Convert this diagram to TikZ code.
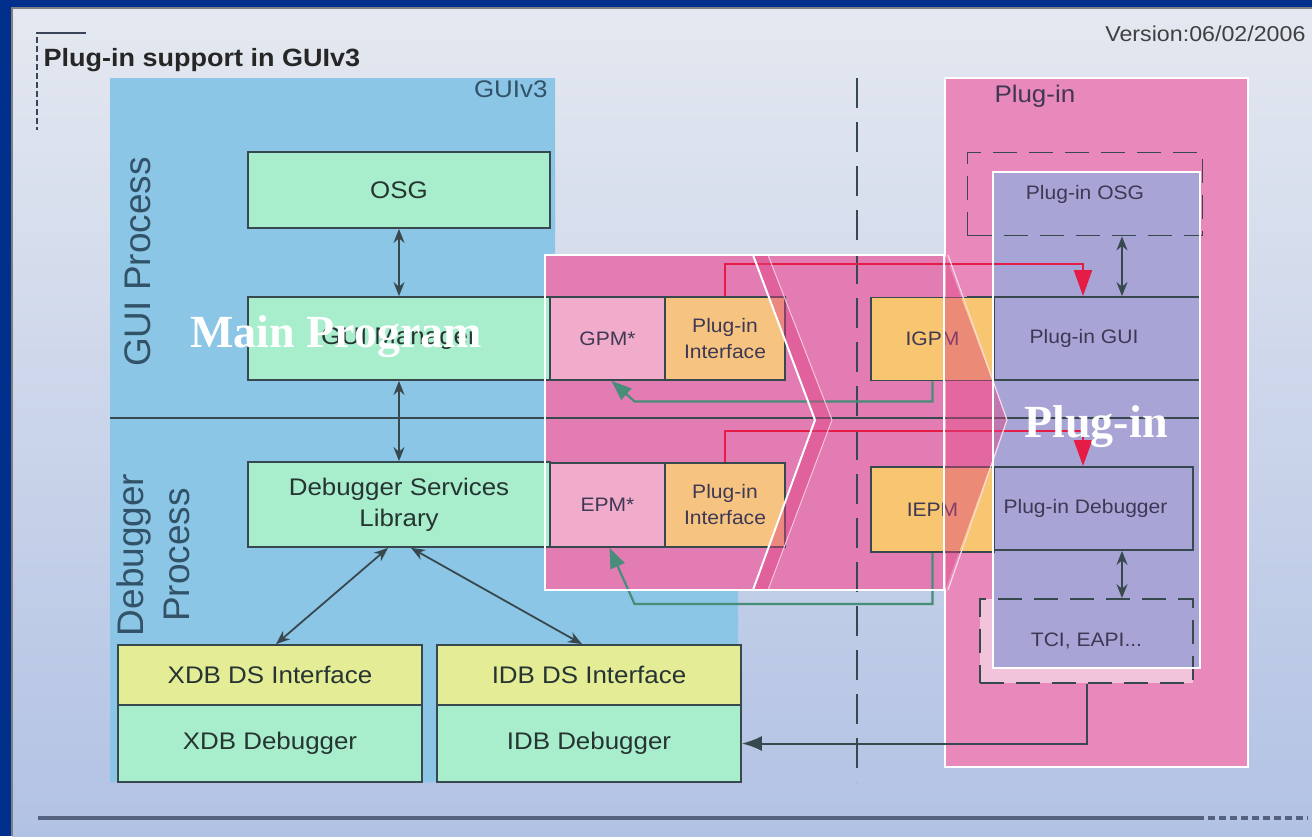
\documentclass[tikz,border=0pt]{standalone}
\usepackage{fontspec}
\setmainfont{Liberation Sans}[FakeStretch=1.08]
\newfontfamily\uprightsans{Liberation Sans}
\newfontfamily\overlayserif{Liberation Serif}
\usetikzlibrary{arrows.meta}

\definecolor{frameblue}{RGB}{0,48,140}
\definecolor{paneltop}{RGB}{228,232,240}
\definecolor{panelbot}{RGB}{178,194,228}
\definecolor{guiblue}{RGB}{140,198,230}
\definecolor{plugpink}{RGB}{233,136,186}
\definecolor{mainpink}{RGB}{226,124,178}
\definecolor{lavender}{RGB}{168,165,214}
\definecolor{mint}{RGB}{168,238,204}
\definecolor{ifyellow}{RGB}{228,236,150}
\definecolor{pmpink}{RGB}{240,172,202}
\definecolor{iforange}{RGB}{246,196,128}
\definecolor{ipmorange}{RGB}{248,198,112}
\definecolor{tcifill}{RGB}{242,196,220}
\definecolor{boxline}{RGB}{55,72,78}
\definecolor{boxtext}{RGB}{38,52,50}
\definecolor{guitext}{RGB}{50,82,104}
\definecolor{plugtext}{RGB}{62,56,84}
\definecolor{arrowred}{RGB}{228,28,70}
\definecolor{arrowteal}{RGB}{72,140,122}
\definecolor{chevron}{RGB}{222,66,130}
\definecolor{rulegray}{RGB}{84,98,128}

\tikzset{
  block/.style={draw=boxline, line width=1.8pt, inner sep=0pt, align=center, text=boxtext, font=\fontsize{24}{31}\selectfont},
  smallblock/.style={block, text=plugtext, font=\fontsize{19.5}{26}\selectfont},
  dashblock/.style={smallblock, dash pattern=on 24pt off 12pt},
  link/.style={>={Stealth[length=14pt,width=11pt]}, <->, line width=1.8pt, draw=boxline},
  calltrack/.style={>={Triangle[length=26pt,width=18pt]}, ->, line width=2.2pt, draw=arrowred},
  backtrack/.style={>={Triangle[length=20pt,width=15pt]}, ->, line width=2.2pt, draw=arrowteal},
  region/.style={draw=white, line width=1.6pt},
  bigwhite/.style={text=white, font=\overlayserif\bfseries\fontsize{46}{52}\selectfont, anchor=base},
}

\begin{document}
\begin{tikzpicture}[x=1pt, y=-1pt]
\useasboundingbox (0,0) rectangle (1312,836);
\fill[frameblue] (0,0) rectangle (1312,836);
\shade[top color=paneltop, bottom color=panelbot] (12,8) rectangle (1312,836);
\draw[gray, line width=1.5pt] (12,836) -- (12,8) -- (1312,8);

\draw[rulegray!70!black, line width=2.5pt] (36,33) -- (86,33);
\draw[rulegray!70!black, line width=2pt, dash pattern=on 6pt off 3pt] (37,37) -- (37,130);
\node[anchor=base west, font=\bfseries\fontsize{25}{30}\selectfont, text=black!85] (title) at (40,66) {Plug-in support in GUIv3};
\node[anchor=base east, font=\fontsize{21.5}{26}\selectfont, text=black!75] (version) at (1309,41) {Version:06/02/2006};

\fill[guiblue] (110,78) -- (555,78) -- (555,255) -- (738,255) -- (738,782) -- (110,782) -- cycle;
\fill[plugpink] (945,78) rectangle (1248,767);
\draw[region] (945,78) rectangle (1248,767);
\node[anchor=base east, font=\fontsize{24}{28}\selectfont, text=guitext] (guilabel) at (551,97) {GUIv3};
\node[anchor=base west, font=\fontsize{24}{28}\selectfont, text=plugtext] (pluglabel) at (991,102) {Plug-in};
\node[rotate=90, inner sep=0pt, font=\uprightsans\fontsize{37}{46}\selectfont, text=guitext] (guiproc) at (138,262) {GUI Process};
\node[rotate=90, inner sep=0pt, align=center, font=\uprightsans\fontsize{37}{46}\selectfont, text=guitext] (dbgproc) at (153,555) {Debugger\\Process};

\fill[mainpink] (545,255) rectangle (944,590);
\fill[tcifill] (980,599) rectangle (1193,683);
\fill[lavender] (993,172) rectangle (1200,668);
\draw[line width=2pt, boxline, dash pattern=on 30pt off 14pt] (857,78) -- (857,782);
\draw[line width=1.8pt, boxline] (110,418) -- (1200,418);

\node[block, fill=mint, minimum width=302pt, minimum height=76pt] (osg) at (399,190) {OSG};
\node[block, fill=mint, minimum width=302pt, minimum height=83pt] (guimgr) at (399,338.5) {GUI Manager};
\node[block, fill=mint, minimum width=302pt, minimum height=85pt] (dsl) at (399,504.5) {Debugger Services\\Library};
\node[block, fill=ifyellow, minimum width=304pt, minimum height=60pt] (xdbif) at (270,675) {XDB DS Interface};
\node[block, fill=mint, minimum width=304pt, minimum height=77pt] (xdbdbg) at (270,743.5) {XDB Debugger};
\node[block, fill=ifyellow, minimum width=304pt, minimum height=60pt] (idbif) at (589,675) {IDB DS Interface};
\node[block, fill=mint, minimum width=304pt, minimum height=77pt] (idbdbg) at (589,743.5) {IDB Debugger};

\node[smallblock, fill=pmpink, minimum width=115pt, minimum height=83pt] (gpm) at (607.5,338.5) {GPM*};
\node[smallblock, fill=iforange, minimum width=120pt, minimum height=83pt] (gpmif) at (725,338.5) {Plug-in\\Interface};
\node[smallblock, fill=pmpink, minimum width=115pt, minimum height=84pt] (epm) at (607.5,505) {EPM*};
\node[smallblock, fill=iforange, minimum width=120pt, minimum height=84pt] (epmif) at (725,505) {Plug-in\\Interface};

\node[dashblock, minimum width=235pt, minimum height=83pt] (pguiosg) at (1085,194) {Plug-in OSG};
\node[smallblock, minimum width=232pt, minimum height=83pt] (pgui) at (1084,338.5) {Plug-in GUI};
\node[smallblock, minimum width=215pt, minimum height=83pt] (pdbg) at (1085.5,508.5) {Plug-in Debugger};
\node[dashblock, minimum width=213pt, minimum height=84pt] (tci) at (1086.5,641) {TCI, EAPI...};
\node[smallblock, fill=ipmorange, minimum width=123pt, minimum height=83pt] (igpm) at (932.5,339) {IGPM};
\node[smallblock, fill=ipmorange, minimum width=123pt, minimum height=85pt] (iepm) at (932.5,509.5) {IEPM};

\draw[link] (osg) -- (guimgr);
\draw[link] (guimgr) -- (dsl);
\draw[link] ([xshift=-11pt]dsl.south) -- ([xshift=6pt]xdbif.north);
\draw[link] ([xshift=12pt]dsl.south) -- ([xshift=-7pt]idbif.north);
\draw[link] ([xshift=37pt]pguiosg.south) -- ([xshift=37pt]pguiosg.south |- pgui.north);
\draw[link] ([xshift=36.5pt]pdbg.south) -- ([xshift=36.5pt]pdbg.south |- tci.north);
\draw[calltrack] (gpmif.north) -- ++(0,-32) -| ([xshift=-1pt]pgui.north);
\draw[calltrack] (epmif.north) -- ++(0,-31) -| ([xshift=-2.5pt]pdbg.north);
\draw[backtrack] (igpm.south) -- ++(0,20) -- ++(-298,0) -- ([xshift=4pt]gpm.south);
\draw[backtrack] (iepm.south) -- ++(0,51) -- ++(-298,0) -- ([xshift=2pt]epm.south);
\draw[>={Latex[length=20pt,width=15pt]}, ->, line width=2pt, draw=boxline] (tci.south) |- (idbdbg.east);

\fill[chevron, opacity=0.45] (753,255) -- (815,420) -- (753,590) -- (768,590) -- (832,420) -- (768,255) -- cycle;
\draw[white, line width=2pt] (753,255) -- (815,420) -- (753,590);
\draw[white!70!chevron, line width=1pt] (768,255) -- (832,420) -- (768,590);
\fill[chevron, opacity=0.45] (945,255) -- (1007,420) -- (945,590) -- cycle;
\draw[white!80!chevron, line width=1.2pt] (948,255) -- (1007,420) -- (948,590);
\draw[region] (545,255) rectangle (944,590);
\draw[region] (993,172) rectangle (1200,668);

\node[bigwhite] (mainprog) at (336,347) {Main Program};
\node[bigwhite] (plugin) at (1096,437) {Plug-in};

\draw[rulegray, line width=4pt] (38,818) -- (1197,818);
\draw[rulegray, line width=4pt, dash pattern=on 7pt off 4pt] (1197,818) -- (1308,818);
\end{tikzpicture}
\end{document}
